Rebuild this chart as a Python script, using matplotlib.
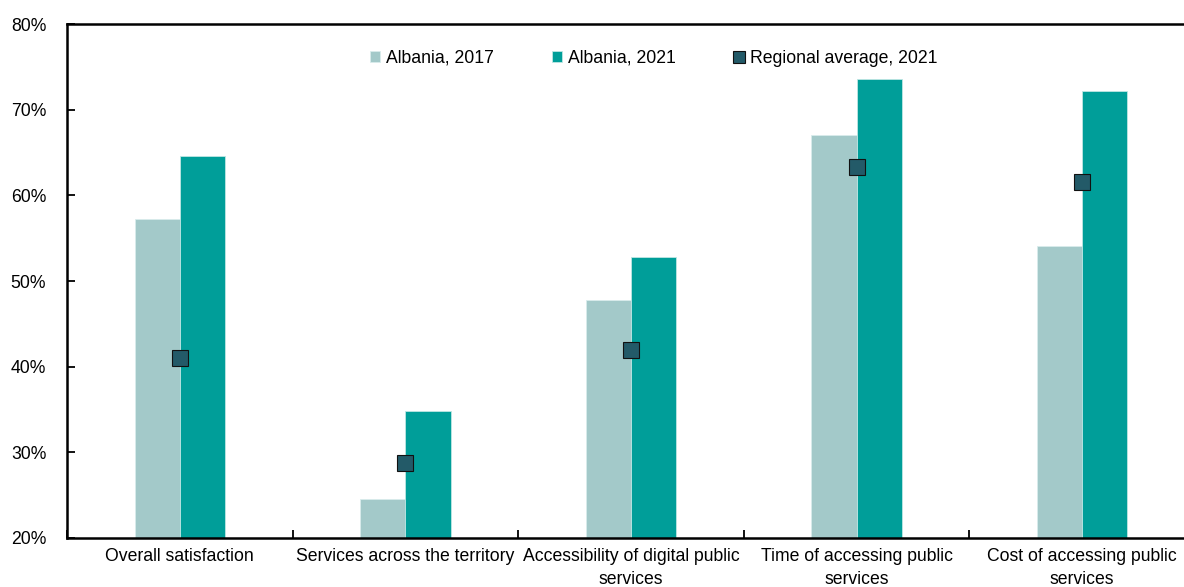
import matplotlib
matplotlib.use("Agg")
import matplotlib.pyplot as plt
import numpy as np
from matplotlib.ticker import FixedLocator, PercentFormatter

categories = ["Overall satisfaction", "Services across the territory",
              "Accessibility of digital public\nservices",
              "Time of accessing public\nservices",
              "Cost of accessing public\nservices"]
albania_2017 = [57.2, 24.6, 47.8, 67.1, 54.1]
albania_2021 = [64.6, 34.8, 52.8, 73.6, 72.2]
regional_2021 = [41.0, 28.8, 42.0, 63.3, 61.5]
series_names = ["Albania, 2017", "Albania, 2021", "Regional average, 2021"]

plt.rcParams['font.family'] = ['Liberation Sans', 'DejaVu Sans']
FS = 12.7

W, H = 1184, 587
fig = plt.figure(figsize=(W / 100, H / 100), dpi=100)
left, right, top, bottom = 67, 1195, 24, 538
ax = fig.add_axes([left / W, 1 - bottom / H, (right - left) / W, (bottom - top) / H])

x = np.arange(len(categories))
bw = 0.2
c17 = "#A3C9C9"
c21 = "#009E99"
cm = "#235A68"
b1 = ax.bar(x - bw / 2, albania_2017, bw, color=c17, edgecolor="#D9ECEC", linewidth=0.6,
            label=series_names[0], zorder=2)
b2 = ax.bar(x + bw / 2, albania_2021, bw, color=c21, edgecolor="#BFE6E4", linewidth=0.6,
            label=series_names[1], zorder=2)
m, = ax.plot(x, regional_2021, linestyle="none", marker="s", markersize=11,
             markerfacecolor=cm, markeredgecolor="#111111", markeredgewidth=0.8,
             label=series_names[2], zorder=3)

ax.set_ylim(20, 80)
ax.set_xlim(-0.5, len(categories) - 0.5)
ax.yaxis.set_major_locator(FixedLocator([20, 30, 40, 50, 60, 70, 80]))
ax.yaxis.set_major_formatter(PercentFormatter(decimals=0))
ax.set_xticks(x)
ax.set_xticklabels(categories, fontsize=FS, linespacing=1.45)
ax.set_xticks(np.arange(len(categories) + 1) - 0.5, minor=True)
ax.tick_params(axis='x', which='major', length=0, pad=7)
ax.tick_params(axis='x', which='minor', direction='in', length=6, width=1.3)
ax.tick_params(axis='y', which='major', direction='in', length=6, width=1.3, labelsize=FS, pad=15)

for side in ['left', 'bottom', 'top']:
    ax.spines[side].set_linewidth(1.8)
ax.spines['right'].set_visible(False)

ax.legend(handles=[b1, b2, m], labels=series_names,
          loc='upper center', bbox_to_anchor=(0.5 + 0.02, 1.0), ncol=3, frameon=False,
          fontsize=FS, handlelength=0.6, handleheight=0.6, handletextpad=0.3,
          columnspacing=3.3, markerscale=0.8, borderaxespad=1.05)

fig.savefig("out.png", dpi=100)
